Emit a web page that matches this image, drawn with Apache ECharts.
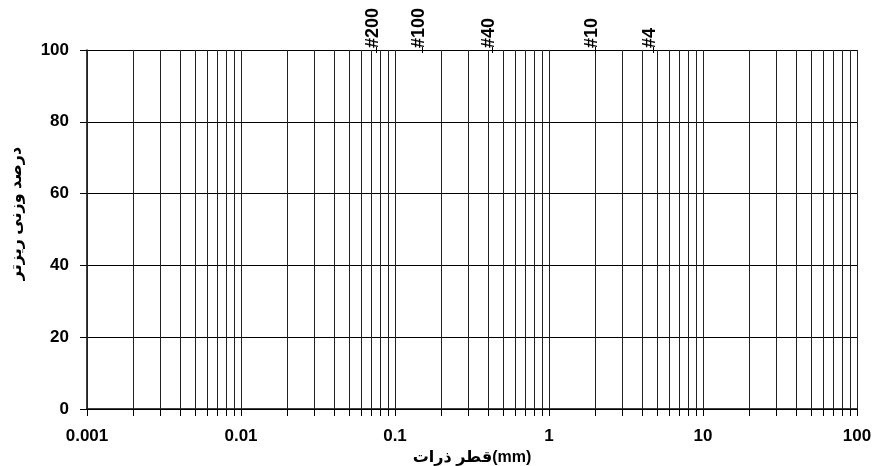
<!DOCTYPE html>
<html>
<head>
<meta charset="utf-8">
<script src="https://cdn.jsdelivr.net/npm/echarts@6/dist/echarts.min.js"></script>
<style>
  html, body { margin: 0; padding: 0; background: #fff; }
  #chart { width: 874px; height: 466px; }
</style>
</head>
<body>
<div id="chart"></div>
<script>
// log grid: decades and the 2..9 steps inside each one
const decades = [0.001, 0.01, 0.1, 1, 10]
const steps = [1, 2, 3, 4, 5, 6, 7, 8, 9]
const gridValues = [100]
decades.forEach(d => steps.forEach(s => gridValues.push(+(d * s).toPrecision(6))))

// sieve sizes (mm) marked on top
const sieveSizes = [0.075, 0.15, 0.425, 2.0, 4.75]
const sieveLabels = ['#200', '#100', '#40', '#10', '#4']

const FONT = 'Arial, "Liberation Sans", "DejaVu Sans", sans-serif'
const INK = '#000'

const chart = echarts.init(document.getElementById('chart'))

chart.setOption({
  animation: false,
  backgroundColor: '#fff',
  grid: { left: 87, right: 17, top: 50, bottom: 57, containLabel: false, outerBoundsMode: 'none' },
  xAxis: {
    type: 'log',
    logBase: 10,
    min: 0.001,
    max: 100,
    name: 'قطر ذرات(mm)',
    nameLocation: 'middle',
    nameGap: 37,
    nameTextStyle: { fontFamily: FONT, fontWeight: 'bold', fontSize: 16, color: INK },
    axisLine: { lineStyle: { color: INK, width: 1.5 } },
    axisTick: { show: false },
    splitLine: { show: false },
    axisLabel: {
      margin: 19,
      fontFamily: FONT, fontWeight: 'bold', fontSize: 17, color: INK,
      formatter: v => String(+v.toPrecision(6))
    }
  },
  yAxis: {
    type: 'value',
    min: 0,
    max: 100,
    interval: 20,
    name: 'درصد وزنی ریزتر',
    nameLocation: 'middle',
    nameGap: 62,
    nameRotate: 90,
    nameTextStyle: {
      fontFamily: FONT, fontWeight: 'bold', fontSize: 16, color: INK,
      padding: [0, 0, 0, 32]
    },
    axisLine: { show: true, lineStyle: { color: INK, width: 1.5 } },
    axisTick: { show: true, inside: false, length: 7, lineStyle: { color: INK } },
    splitLine: { show: true, lineStyle: { color: INK, width: 1 } },
    axisLabel: { margin: 18, fontFamily: FONT, fontWeight: 'bold', fontSize: 17, color: INK }
  },
  series: [
    {
      // vertical log grid lines with their small ticks under the axis
      type: 'custom',
      clip: false,
      silent: true,
      data: gridValues.map(v => [v]),
      encode: { x: 0 },
      renderItem: (params, api) => {
        const v = api.value(0)
        const p0 = api.coord([v, 0])
        const p1 = api.coord([v, 100])
        const x = Math.round(p0[0]) + 0.5
        return {
          type: 'group',
          children: [
            { type: 'line', shape: { x1: x, y1: p0[1], x2: x, y2: p1[1] },
              style: { stroke: '#222', lineWidth: 1 } },
            { type: 'line', shape: { x1: x, y1: p0[1], x2: x, y2: p0[1] + 7 },
              style: { stroke: INK, lineWidth: 1 } }
          ]
        }
      }
    },
    {
      // sieve numbers along the top edge
      type: 'custom',
      clip: false,
      silent: true,
      data: sieveSizes.map((v, i) => [v, sieveLabels[i]]),
      encode: { x: 0 },
      renderItem: (params, api) => {
        const v = api.value(0)
        const p = api.coord([v, 100])
        const x = Math.round(p[0]) + 0.5
        return {
          type: 'group',
          children: [
            { type: 'line', shape: { x1: x, y1: p[1] - 3, x2: x, y2: p[1] + 3 },
              style: { stroke: INK, lineWidth: 1 } },
            { type: 'text', x: x + 6, y: p[1] - 2, rotation: Math.PI / 2,
              style: { text: sieveLabels[params.dataIndex], align: 'left', verticalAlign: 'bottom',
                fontFamily: FONT, fontWeight: 'bold', fontSize: 18, fill: INK } }
          ]
        }
      }
    }
  ]
})
</script>
</body>
</html>
